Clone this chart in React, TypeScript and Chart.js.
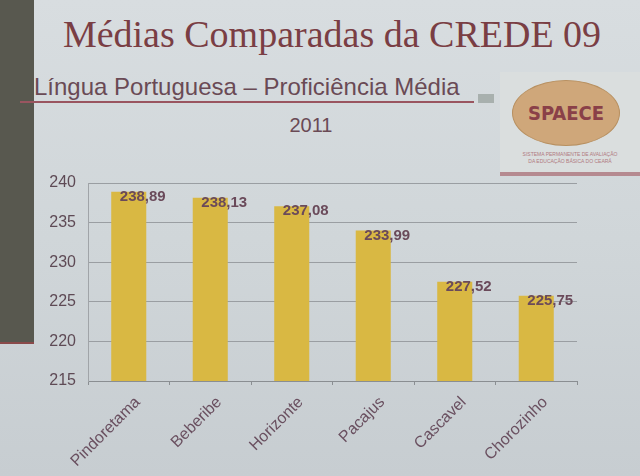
import React, { useEffect, useRef } from "react";
import { Chart, registerables } from "chart.js";

Chart.register(...registerables);

const categories = ["Pindoretama", "Beberibe", "Horizonte", "Pacajus", "Cascavel", "Chorozinho"];
const values = [238.89, 238.13, 237.08, 233.99, 227.52, 225.75];
const yTicks = [215, 220, 225, 230, 235, 240];

const textColor = "#5e4a55";

const valueLabels = {
  id: "valueLabels",
  afterDatasetsDraw(chart: any) {
    const ctx = chart.ctx;
    const meta = chart.getDatasetMeta(0);
    ctx.save();
    ctx.font = "bold 15px 'Liberation Sans', Arial, sans-serif";
    ctx.fillStyle = "#6a4a5a";
    ctx.textAlign = "center";
    ctx.textBaseline = "middle";
    meta.data.forEach((bar: any, i: number) => {
      const label = values[i].toFixed(2).replace(".", ",");
      ctx.fillText(label, bar.x + 14, bar.y + 5);
    });
    ctx.restore();
  },
};

export default function App() {
  const ref = useRef<HTMLCanvasElement>(null);
  useEffect(() => {
    document.body.style.margin = "0";
    const chart = new Chart(ref.current!, {
      type: "bar",
      data: {
        labels: categories,
        datasets: [
          {
            data: values,
            backgroundColor: "#d9b843",
            borderWidth: 0,
            barPercentage: 0.86,
            categoryPercentage: 0.5,
          },
        ],
      },
      options: {
        animation: false,
        responsive: false,
        maintainAspectRatio: false,
        layout: { padding: { left: 28, right: 63, top: 183, bottom: 0 } },
        plugins: { legend: { display: false }, tooltip: { enabled: false } },
        scales: {
          x: {
            afterFit: (s: any) => {
              s.height = 95;
            },
            grid: {
              display: true,
              drawOnChartArea: false,
              drawTicks: true,
              tickLength: 4,
              color: "#8a8e92",
            },
            border: { color: "#8a8e92", width: 1 },
            ticks: {
              minRotation: 45,
              maxRotation: 45,
              labelOffset: 9,
              color: "#6a5060",
              font: { family: "'Liberation Sans', Arial, sans-serif", size: 16 },
              padding: 8,
            },
          },
          y: {
            min: 215,
            max: 240,
            afterFit: (s: any) => {
              s.width = 60;
            },
            afterBuildTicks: (s: any) => {
              s.ticks = yTicks.map((v) => ({ value: v }));
            },
            grid: { color: "#9a9ea2", lineWidth: 1, drawTicks: false },
            border: { display: true, color: "#a0a4a8" },
            ticks: {
              color: textColor,
              padding: 12,
              font: { family: "'Liberation Sans', Arial, sans-serif", size: 16 },
            },
          },
        },
      },
      plugins: [valueLabels],
    });
    return () => chart.destroy();
  }, []);

  return (
    <div
      style={{
        position: "fixed",
        left: 0,
        top: 0,
        width: 640,
        height: 476,
        overflow: "hidden",
        background: "linear-gradient(180deg, #d8dde0 0%, #d0d6d9 50%, #c7cdd1 100%)",
        fontFamily: "'Liberation Sans', Arial, sans-serif",
      }}
    >
      <div style={{ position: "absolute", left: 0, top: 0, width: 34, height: 342, background: "#58584f", borderBottom: "2px solid #8a4a4a" }} />
      <div
        style={{
          position: "absolute",
          left: 0,
          width: 664,
          top: 11,
          textAlign: "center",
          fontFamily: "'Liberation Serif', 'Times New Roman', serif",
          fontSize: 38,
          color: "#7a3e44",
          lineHeight: "46px",
        }}
      >
        Médias Comparadas da CREDE 09
      </div>
      <div style={{ position: "absolute", left: 34, top: 73, fontSize: 24, color: "#6a4a55", lineHeight: "28px", whiteSpace: "nowrap" }}>
        Língua Portuguesa – Proficiência Média
      </div>
      <div style={{ position: "absolute", left: 20, top: 101, width: 454, height: 2, background: "#9a5560" }} />
      <div style={{ position: "absolute", left: 478, top: 94, width: 16, height: 9, background: "#a8b0ae" }} />
      <div style={{ position: "absolute", left: 0, width: 622, top: 112, textAlign: "center", fontSize: 20, color: "#6a4a55", lineHeight: "26px" }}>
        2011
      </div>
      <div style={{ position: "absolute", left: 500, top: 72, width: 140, height: 100, background: "#dadede" }} />
      <div style={{ position: "absolute", left: 500, top: 172, width: 140, height: 4, background: "#b58a90" }} />
      <div
        style={{
          position: "absolute",
          left: 512,
          top: 80,
          width: 106,
          height: 64,
          borderRadius: "50%",
          background: "#cfa77a",
          border: "1px solid #b89060",
          display: "flex",
          alignItems: "center",
          justifyContent: "center",
          fontFamily: "'DejaVu Sans Condensed', 'Liberation Sans Narrow', sans-serif",
          fontWeight: "bold",
          fontSize: 20,
          color: "#8a4048",
        }}
      >
        SPAECE
      </div>
      <div style={{ position: "absolute", left: 505, top: 151, width: 130, textAlign: "center", fontSize: 5, color: "#b07a80", lineHeight: "7px" }}>
        SISTEMA PERMANENTE DE AVALIAÇÃO
        <br />
        DA EDUCAÇÃO BÁSICA DO CEARÁ
      </div>
      <canvas ref={ref} width={640} height={476} style={{ position: "absolute", left: 0, top: 0, width: 640, height: 476 }} />
    </div>
  );
}
